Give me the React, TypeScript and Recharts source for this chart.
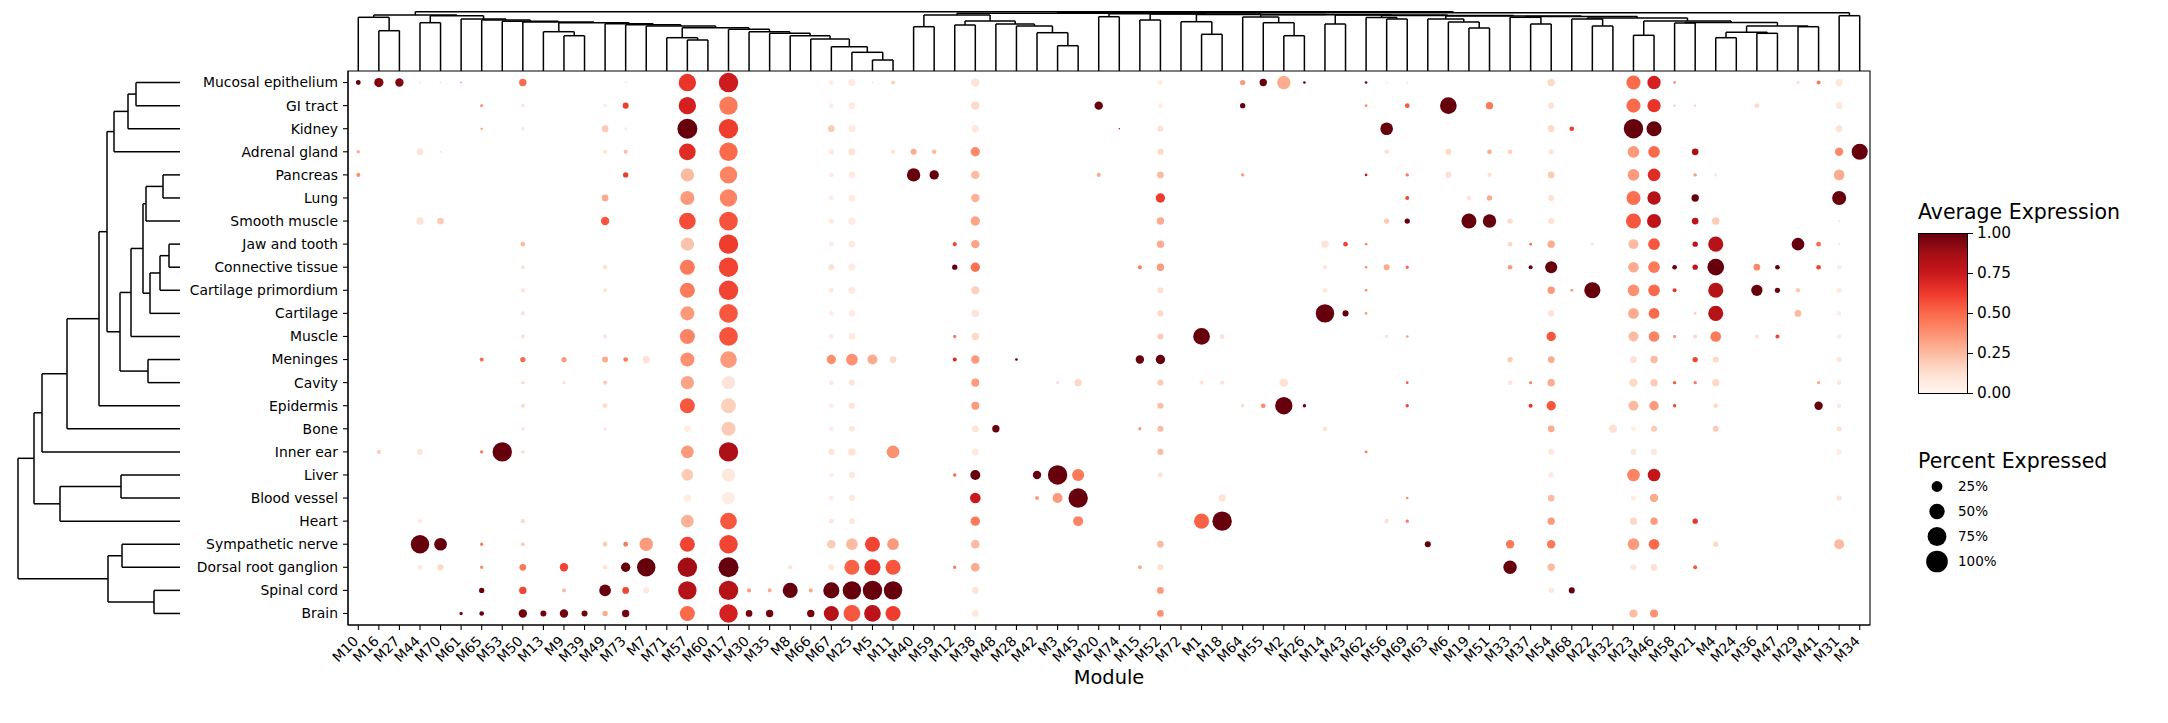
import React from "react";
import {
  ScatterChart,
  Scatter,
  XAxis,
  YAxis,
  ZAxis,
  Cell,
  ReferenceLine,
  ReferenceArea,
} from "recharts";

const FONT = "DejaVu Sans, sans-serif";

const modules = [
  "M10", "M16", "M27", "M44", "M70", "M61", "M65", "M53", "M50", "M13", "M9", "M39", "M49", "M73",
  "M7", "M71", "M57", "M60", "M17", "M30", "M35", "M8", "M66", "M67", "M25", "M5", "M11", "M40",
  "M59", "M12", "M38", "M48", "M28", "M42", "M3", "M45", "M20", "M74", "M15", "M52", "M72", "M1",
  "M18", "M64", "M55", "M2", "M26", "M14", "M43", "M62", "M56", "M69", "M63", "M6", "M19", "M51",
  "M33", "M37", "M54", "M68", "M22", "M32", "M23", "M46", "M58", "M21", "M4", "M24", "M36", "M47",
  "M29", "M41", "M31", "M34",
];

const tissues = [
  "Mucosal epithelium", "GI tract", "Kidney", "Adrenal gland", "Pancreas", "Lung", "Smooth muscle",
  "Jaw and tooth", "Connective tissue", "Cartilage primordium", "Cartilage", "Muscle", "Meninges",
  "Cavity", "Epidermis", "Bone", "Inner ear", "Liver", "Blood vessel", "Heart", "Sympathetic nerve",
  "Dorsal root ganglion", "Spinal cord", "Brain",
];

// [module, percent expressed, average expression]
type Dot = [string, number, number];

const mucosalEpithelium: Dot[] = [
  ["M10", 5, 1], ["M16", 18, 0.95], ["M27", 15, 0.95], ["M44", 1, 0.1], ["M70", 1, 0.1],
  ["M61", 0.6, 0.4], ["M50", 11.5, 0.5], ["M73", 1, 0.1], ["M57", 64, 0.65], ["M17", 80, 0.74],
  ["M67", 5, 0.06], ["M25", 11, 0.06], ["M5", 1, 0.1], ["M11", 3.4, 0.18], ["M38", 15, 0.1],
  ["M52", 5, 0.06], ["M64", 6, 0.35], ["M55", 11.5, 1], ["M2", 38, 0.3], ["M26", 1.5, 1],
  ["M62", 1.5, 1], ["M56", 0.7, 0.1], ["M69", 0.7, 0.1], ["M54", 11.5, 0.15], ["M23", 42, 0.5],
  ["M46", 38, 0.72], ["M58", 1.5, 0.4], ["M29", 2.4, 0.12], ["M41", 3.4, 0.45], ["M31", 11.5, 0.08],
];
const giTract: Dot[] = [
  ["M65", 2.4, 0.35], ["M50", 2.4, 0.12], ["M49", 2.4, 0.08], ["M73", 7.7, 0.62], ["M57", 64, 0.72],
  ["M17", 72, 0.45], ["M67", 4.6, 0.06], ["M25", 9.5, 0.06], ["M38", 15, 0.15], ["M20", 15, 1],
  ["M52", 5, 0.06], ["M64", 6, 1], ["M62", 1.5, 0.4], ["M69", 4.6, 0.55], ["M6", 59, 1],
  ["M51", 11.5, 0.45], ["M54", 7.7, 0.12], ["M23", 42, 0.5], ["M46", 38, 0.65], ["M58", 1, 0.2],
  ["M21", 1, 0.2], ["M36", 4.6, 0.15], ["M31", 9.5, 0.08],
];
const kidney: Dot[] = [
  ["M65", 1.5, 0.3], ["M50", 2.4, 0.1], ["M49", 9.5, 0.2], ["M73", 1.5, 0.1], ["M57", 85, 1],
  ["M17", 80, 0.62], ["M67", 9.5, 0.2], ["M25", 11, 0.06], ["M38", 11, 0.08], ["M74", 0.4, 0.9],
  ["M52", 7.7, 0.12], ["M56", 34, 1], ["M54", 9.5, 0.15], ["M68", 4.6, 0.62], ["M23", 80, 1],
  ["M46", 48, 1], ["M31", 9.5, 0.1],
];
const adrenalGland: Dot[] = [
  ["M10", 2.4, 0.3], ["M44", 9.5, 0.1], ["M70", 1, 0.1], ["M49", 3.4, 0.1], ["M73", 3.4, 0.25],
  ["M57", 59, 0.68], ["M17", 72, 0.5], ["M67", 6, 0.08], ["M25", 11, 0.1], ["M11", 3.4, 0.12],
  ["M40", 7.7, 0.3], ["M59", 4.6, 0.25], ["M38", 18.6, 0.4], ["M52", 7.7, 0.15], ["M56", 4.6, 0.12],
  ["M6", 7.7, 0.15], ["M51", 4.6, 0.3], ["M33", 4.6, 0.18], ["M54", 6, 0.1], ["M23", 29, 0.35],
  ["M46", 29, 0.5], ["M21", 9.5, 0.85], ["M31", 15, 0.4], ["M34", 55, 1],
];
const pancreas: Dot[] = [
  ["M10", 3.4, 0.38], ["M73", 6, 0.62], ["M57", 38, 0.25], ["M17", 64, 0.42], ["M67", 4.6, 0.06],
  ["M25", 9.5, 0.06], ["M40", 38, 1], ["M59", 18.6, 1], ["M38", 15, 0.25], ["M20", 3.4, 0.3],
  ["M52", 9.5, 0.25], ["M64", 2.4, 0.35], ["M62", 1.5, 0.75], ["M69", 2.4, 0.45], ["M6", 7.7, 0.12],
  ["M51", 3.4, 0.12], ["M54", 9.5, 0.2], ["M23", 29, 0.35], ["M46", 34, 0.68], ["M21", 2.4, 0.35],
  ["M4", 2.4, 0.08], ["M31", 24, 0.3],
];
const lung: Dot[] = [
  ["M49", 9.5, 0.3], ["M57", 42, 0.35], ["M17", 64, 0.42], ["M67", 5, 0.06], ["M25", 9.5, 0.06],
  ["M38", 15, 0.28], ["M52", 18.6, 0.62], ["M69", 3.4, 0.6], ["M19", 4.6, 0.1], ["M51", 6, 0.3],
  ["M54", 7.7, 0.12], ["M23", 42, 0.48], ["M46", 38, 0.82], ["M21", 11.5, 1], ["M31", 42, 1],
];
const smoothMuscle: Dot[] = [
  ["M44", 11.5, 0.1], ["M70", 9.5, 0.2], ["M49", 15, 0.55], ["M57", 59, 0.58], ["M17", 74, 0.56],
  ["M67", 6, 0.06], ["M25", 11, 0.06], ["M38", 18.6, 0.32], ["M52", 11.5, 0.3], ["M56", 6, 0.2],
  ["M69", 6, 1], ["M19", 48, 1], ["M51", 38, 1], ["M33", 6, 0.15], ["M54", 7.7, 0.12],
  ["M23", 48, 0.55], ["M46", 42, 0.8], ["M21", 9.5, 0.8], ["M4", 11.5, 0.2], ["M31", 1, 0.1],
];
const jawAndTooth: Dot[] = [
  ["M50", 4.6, 0.25], ["M57", 38, 0.22], ["M17", 80, 0.62], ["M67", 5, 0.06], ["M25", 9.5, 0.06],
  ["M12", 3.4, 0.6], ["M38", 15, 0.32], ["M52", 11.5, 0.3], ["M14", 11.5, 0.1], ["M43", 4.6, 0.6],
  ["M62", 1.5, 0.4], ["M33", 4.6, 0.15], ["M37", 1.5, 0.5], ["M54", 11.5, 0.3], ["M22", 2.4, 0.08],
  ["M23", 21, 0.25], ["M46", 29, 0.55], ["M21", 6, 0.8], ["M4", 48, 0.82], ["M29", 34, 1],
  ["M41", 4.6, 0.5], ["M31", 1, 0.08],
];
const connectiveTissue: Dot[] = [
  ["M50", 3.4, 0.12], ["M49", 4.6, 0.12], ["M57", 48, 0.45], ["M17", 80, 0.6], ["M67", 7.7, 0.12],
  ["M25", 11, 0.06], ["M12", 6, 1], ["M38", 18.6, 0.48], ["M15", 3.4, 0.45], ["M52", 11.5, 0.35],
  ["M14", 4.6, 0.08], ["M62", 1.5, 0.4], ["M56", 7.7, 0.3], ["M69", 2.4, 0.5], ["M33", 4.6, 0.35],
  ["M37", 3.4, 1], ["M54", 31, 1], ["M23", 24, 0.3], ["M46", 29, 0.45], ["M58", 4.6, 1],
  ["M21", 6, 0.8], ["M4", 59, 1], ["M36", 9.5, 0.4], ["M47", 4.6, 1], ["M41", 4.6, 0.6],
  ["M31", 4.6, 0.06],
];
const cartilagePrimordium: Dot[] = [
  ["M50", 3.4, 0.12], ["M49", 3.4, 0.1], ["M57", 48, 0.45], ["M17", 80, 0.6], ["M67", 5, 0.08],
  ["M25", 11, 0.06], ["M38", 13.6, 0.18], ["M52", 7.7, 0.12], ["M14", 4.6, 0.08], ["M62", 1.5, 0.4],
  ["M54", 11.5, 0.35], ["M68", 1.5, 0.4], ["M22", 55, 1], ["M23", 29, 0.38], ["M46", 29, 0.5],
  ["M58", 3.4, 0.65], ["M4", 48, 0.82], ["M36", 27, 1], ["M47", 6, 1], ["M29", 4.6, 0.2],
  ["M31", 6, 0.06],
];
const cartilage: Dot[] = [
  ["M50", 3.4, 0.12], ["M57", 42, 0.35], ["M17", 74, 0.55], ["M67", 5, 0.06], ["M25", 9.5, 0.06],
  ["M38", 11.5, 0.1], ["M52", 7.7, 0.15], ["M14", 72, 1], ["M43", 7.7, 1], ["M62", 1.5, 0.35],
  ["M54", 7.7, 0.12], ["M23", 24, 0.3], ["M46", 24, 0.5], ["M21", 1.5, 0.2], ["M4", 48, 0.82],
  ["M29", 9.5, 0.25], ["M31", 3.4, 0.06],
];
const muscle: Dot[] = [
  ["M50", 3.4, 0.12], ["M49", 3.4, 0.1], ["M57", 48, 0.42], ["M17", 74, 0.56], ["M67", 5, 0.06],
  ["M25", 9.5, 0.06], ["M12", 2.4, 0.45], ["M38", 11.5, 0.15], ["M52", 7.7, 0.2], ["M1", 59, 1],
  ["M18", 5, 0.1], ["M56", 2.4, 0.12], ["M69", 1.5, 0.35], ["M54", 18.6, 0.55], ["M23", 21, 0.25],
  ["M46", 24, 0.42], ["M58", 2.4, 0.35], ["M21", 3.4, 0.15], ["M4", 24, 0.45], ["M36", 3.4, 0.12],
  ["M47", 3.4, 0.6], ["M31", 4.6, 0.06],
];
const meninges: Dot[] = [
  ["M65", 3.4, 0.5], ["M50", 6, 0.5], ["M9", 6, 0.35], ["M49", 7.7, 0.3], ["M73", 4.6, 0.45],
  ["M7", 11.5, 0.1], ["M57", 42, 0.38], ["M17", 59, 0.35], ["M67", 18.6, 0.38], ["M25", 29, 0.38],
  ["M5", 21, 0.3], ["M11", 9.5, 0.15], ["M12", 3.4, 0.7], ["M38", 15, 0.35], ["M28", 1.5, 1],
  ["M15", 15, 1], ["M52", 18.6, 1], ["M33", 6, 0.2], ["M54", 9.5, 0.3], ["M23", 9.5, 0.12],
  ["M46", 11.5, 0.25], ["M21", 6, 0.6], ["M4", 7.7, 0.15], ["M31", 6, 0.08],
];
const cavity: Dot[] = [
  ["M50", 2.4, 0.15], ["M9", 2.4, 0.12], ["M49", 3.4, 0.2], ["M57", 38, 0.32], ["M17", 38, 0.1],
  ["M67", 5, 0.08], ["M25", 7.7, 0.1], ["M38", 13.6, 0.35], ["M3", 2.4, 0.1], ["M45", 11.5, 0.15],
  ["M52", 7.7, 0.2], ["M1", 3.4, 0.1], ["M18", 3.4, 0.1], ["M2", 15, 0.12], ["M69", 1.5, 0.55],
  ["M33", 4.6, 0.1], ["M37", 2.4, 0.4], ["M54", 11.5, 0.3], ["M23", 15, 0.15], ["M46", 11.5, 0.2],
  ["M58", 2.4, 0.55], ["M21", 2.4, 0.45], ["M4", 11.5, 0.15], ["M41", 2.4, 0.3], ["M31", 4.6, 0.08],
];
const epidermis: Dot[] = [
  ["M50", 3.4, 0.15], ["M49", 4.6, 0.15], ["M57", 48, 0.55], ["M17", 48, 0.18], ["M67", 4.6, 0.06],
  ["M25", 7.7, 0.1], ["M38", 13.6, 0.35], ["M52", 7.7, 0.25], ["M64", 2.4, 0.15], ["M55", 4.6, 0.4],
  ["M2", 64, 1], ["M26", 2.4, 1], ["M69", 2.4, 0.6], ["M37", 3.4, 0.65], ["M54", 18.6, 0.55],
  ["M23", 21, 0.25], ["M46", 18.6, 0.35], ["M58", 2.4, 0.6], ["M4", 4.6, 0.15], ["M41", 15, 1],
  ["M31", 4.6, 0.08],
];
const bone: Dot[] = [
  ["M50", 2.4, 0.1], ["M49", 2.4, 0.1], ["M57", 9.5, 0.05], ["M17", 42, 0.2], ["M67", 4.6, 0.06],
  ["M25", 7.7, 0.08], ["M38", 9.5, 0.1], ["M48", 11.5, 1], ["M15", 2.4, 0.35], ["M52", 7.7, 0.25],
  ["M14", 4.6, 0.1], ["M54", 9.5, 0.3], ["M32", 15, 0.12], ["M23", 4.6, 0.06], ["M46", 7.7, 0.2],
  ["M4", 7.7, 0.2], ["M31", 6, 0.1],
];
const innerEar: Dot[] = [
  ["M16", 3.4, 0.2], ["M44", 7.7, 0.08], ["M65", 2.4, 0.45], ["M53", 80, 1], ["M50", 2.4, 0.15],
  ["M57", 34, 0.35], ["M17", 80, 0.85], ["M67", 7.7, 0.1], ["M25", 11.5, 0.12], ["M11", 34, 0.38],
  ["M38", 9.5, 0.08], ["M52", 7.7, 0.25], ["M62", 1.5, 0.45], ["M54", 7.7, 0.08], ["M23", 7.7, 0.08],
  ["M46", 7.7, 0.08], ["M31", 6, 0.06],
];
const liver: Dot[] = [
  ["M57", 29, 0.2], ["M17", 38, 0.08], ["M67", 4.6, 0.06], ["M25", 7.7, 0.08], ["M12", 2.4, 0.5],
  ["M38", 21, 1], ["M42", 15, 1], ["M3", 80, 1], ["M45", 31, 0.45], ["M52", 5, 0.12],
  ["M54", 6, 0.08], ["M23", 34, 0.42], ["M46", 34, 0.78],
];
const bloodVessel: Dot[] = [
  ["M57", 11.5, 0.05], ["M17", 34, 0.05], ["M67", 4.6, 0.06], ["M25", 7.7, 0.08], ["M38", 24, 0.75],
  ["M42", 3.4, 0.35], ["M3", 21, 0.35], ["M45", 80, 1], ["M18", 11.5, 0.1], ["M69", 1.5, 0.4],
  ["M54", 9.5, 0.25], ["M23", 6, 0.06], ["M46", 15, 0.3], ["M31", 6, 0.1],
];
const heart: Dot[] = [
  ["M44", 3.4, 0.08], ["M50", 3.4, 0.15], ["M57", 34, 0.28], ["M17", 59, 0.55], ["M67", 5, 0.08],
  ["M25", 7.7, 0.08], ["M38", 18.6, 0.45], ["M45", 21, 0.42], ["M1", 48, 0.52], ["M18", 80, 1],
  ["M56", 4.6, 0.12], ["M69", 2.4, 0.45], ["M54", 11.5, 0.35], ["M23", 11.5, 0.15],
  ["M46", 11.5, 0.35], ["M21", 6, 0.65],
];
const sympatheticNerve: Dot[] = [
  ["M44", 72, 1], ["M70", 34, 1], ["M65", 2.4, 0.45], ["M50", 3.4, 0.2], ["M49", 5, 0.2],
  ["M73", 5, 0.45], ["M7", 38, 0.35], ["M57", 48, 0.6], ["M17", 72, 0.6], ["M67", 15, 0.2],
  ["M25", 29, 0.25], ["M5", 48, 0.6], ["M11", 29, 0.35], ["M38", 16, 0.25], ["M52", 9.5, 0.25],
  ["M63", 7.7, 1], ["M33", 15, 0.45], ["M54", 15, 0.45], ["M23", 29, 0.35], ["M46", 24, 0.5],
  ["M4", 6, 0.15], ["M31", 21, 0.25],
];
const dorsalRootGanglion: Dot[] = [
  ["M44", 4.6, 0.08], ["M70", 7.7, 0.15], ["M65", 2.4, 0.4], ["M50", 9.5, 0.45], ["M9", 15, 0.6],
  ["M49", 4.6, 0.12], ["M73", 18.6, 1], ["M7", 72, 1], ["M57", 80, 0.88], ["M17", 85, 1],
  ["M8", 3.4, 0.12], ["M67", 7.7, 0.08], ["M25", 48, 0.52], ["M5", 55, 0.65], ["M11", 48, 0.55],
  ["M12", 2.4, 0.45], ["M38", 16, 0.3], ["M15", 3.4, 0.3], ["M52", 7.7, 0.12], ["M33", 38, 1],
  ["M54", 11.5, 0.25], ["M23", 7.7, 0.08], ["M46", 9.5, 0.12], ["M21", 3.4, 0.55],
];
const spinalCord: Dot[] = [
  ["M65", 6, 1], ["M50", 11.5, 0.6], ["M9", 3.4, 0.25], ["M49", 29, 1], ["M73", 9.5, 0.6],
  ["M7", 7.7, 0.08], ["M57", 72, 0.82], ["M17", 80, 0.82], ["M30", 3.4, 0.35], ["M35", 3.4, 0.3],
  ["M8", 48, 1], ["M66", 3.4, 0.3], ["M67", 55, 1], ["M25", 72, 1], ["M5", 80, 1], ["M11", 72, 1],
  ["M38", 9.5, 0.1], ["M52", 9.5, 0.35], ["M54", 6, 0.08], ["M68", 7.7, 1],
];
const brain: Dot[] = [
  ["M61", 2.4, 0.95], ["M65", 4.6, 1], ["M50", 15, 0.98], ["M13", 7.7, 0.98], ["M9", 15, 0.98],
  ["M39", 7.7, 0.98], ["M49", 6, 0.3], ["M73", 11.5, 0.98], ["M57", 48, 0.5], ["M17", 72, 0.72],
  ["M30", 9.5, 0.98], ["M35", 11.5, 0.98], ["M66", 11.5, 0.98], ["M67", 48, 0.82], ["M25", 59, 0.55],
  ["M5", 59, 0.8], ["M11", 48, 0.62], ["M38", 9.5, 0.08], ["M52", 9.5, 0.38], ["M23", 13.6, 0.25],
  ["M46", 13.6, 0.38],
];

const tissueDots: Dot[][] = [
  mucosalEpithelium, giTract, kidney, adrenalGland, pancreas, lung, smoothMuscle, jawAndTooth,
  connectiveTissue, cartilagePrimordium, cartilage, muscle, meninges, cavity, epidermis, bone,
  innerEar, liver, bloodVessel, heart, sympatheticNerve, dorsalRootGanglion, spinalCord, brain,
];

// dendrograms: leaf name, or [left, right, merge height]
type Node = string | [Node, Node, number];

const tissueUpper: Node = [[["Mucosal epithelium", "GI tract", 44], "Kidney", 52], "Adrenal gland", 66];
const tissueMid: Node = [
  [
    [[["Pancreas", "Lung", 17], "Smooth muscle", 34],
      [[["Jaw and tooth", "Connective tissue", 11], "Cartilage primordium", 20], "Cartilage", 30], 37],
    "Muscle", 49,
  ],
  ["Meninges", "Cavity", 32], 60,
];
const tissueBody: Node = [[[[tissueUpper, tissueMid, 73], "Epidermis", 81], "Bone", 113], "Inner ear", 138];
const tissueCirc: Node = [["Liver", "Blood vessel", 59], "Heart", 120];
const tissueNerve: Node = [["Sympathetic nerve", "Dorsal root ganglion", 58], ["Spinal cord", "Brain", 26], 72];
const tissueTree: Node = [[tissueBody, tissueCirc, 146], tissueNerve, 162];

const modK: Node = ["M17", ["M30", ["M35", ["M8", ["M66", ["M67", ["M25", ["M5", "M11", 11], 18.7], 24.3], 32], 35.3], 37.7], 39.3], 41.7];
const modJ: Node = ["M71", ["M57", "M60", 31], 33.3];
const modI: Node = ["M13", ["M9", "M39", 35.3], 39.3];
const modX: Node = ["M61", ["M65", ["M53", ["M50", [modI, ["M49", ["M73", ["M7", [modJ, modK, 43.3], 45], 46.2], 47.2], 48.3], 49], 49.7], 51], 52];
const modQ: Node = [["M10", ["M16", "M27", 40.3], 53.7], [["M44", "M70", 48.3], modX, 55.3], 56];
const modA: Node = [["M40", "M59", 44.3], [["M12", "M38", 46], ["M48", ["M28", ["M42", ["M3", "M45", 25.3], 38.3], 45], 47], 50], 56];
const modG1: Node = ["M20", "M74", 54.3];
const modG2: Node = ["M15", "M52", 51];
const modG3: Node = ["M72", ["M1", "M18", 36.7], 49.3];
const modG4: Node = ["M64", ["M55", ["M2", "M26", 35.3], 48.3], 54];
const modG5: Node = ["M14", "M43", 47];
const modG6: Node = ["M62", ["M56", "M69", 52], 53.5];
const modG7: Node = ["M63", ["M6", ["M19", "M51", 43], 49], 52];
const modG8: Node = ["M33", ["M37", "M54", 47], 53.7];
const modG9: Node = ["M68", ["M22", "M32", 45], 52];
const modG10: Node = ["M23", "M46", 35.7];
const modG11: Node = ["M58", "M21", 48];
const modG12: Node = [["M4", "M24", 33.3], ["M36", "M47", 37.7], 38.7];
const modG13: Node = ["M29", "M41", 44.3];
const modG14: Node = ["M31", "M34", 55.3];
const modLadder: Node = [modG1, [modG2, [modG3, [modG4, [modG5, [modG6, [modG7, [modG8, [modG9, [modG10, [modG11, [modG12, modG13, 45], 48.5], 50], 53], 54.5], 55], 55.5], 56], 56.3], 56.6], 57], 57.3];
const moduleTree: Node = [modQ, [[modA, modLadder, 57.7], modG14, 58.3], 59.3];

const expressionTicks = [1, 0.75, 0.5, 0.25, 0];
const percentTicks = [25, 50, 75, 100];

const redStops = ["#fff5f0", "#fee0d2", "#fcbba1", "#fc9272", "#fb6a4a", "#ef3b2c", "#cb181d", "#a50f15", "#67000d"];

function hex(c: string) {
  return [1, 3, 5].map((i) => parseInt(c.slice(i, i + 2), 16));
}
function reds(v: number) {
  const t = Math.max(0, Math.min(1, v)) * 8;
  const i = Math.min(7, Math.floor(t));
  const f = t - i;
  const a = hex(redStops[i]);
  const b = hex(redStops[i + 1]);
  const m = a.map((x, k) => Math.round(x + (b[k] - x) * f));
  return `rgb(${m[0]},${m[1]},${m[2]})`;
}

type Seg = { p1: number; h1: number; p2: number; h2: number };
function layoutTree(node: Node, order: string[], segs: Seg[]): { pos: number; h: number } {
  if (typeof node === "string") return { pos: order.indexOf(node), h: 0 };
  const a = layoutTree(node[0], order, segs);
  const b = layoutTree(node[1], order, segs);
  const h = node[2];
  segs.push({ p1: a.pos, h1: a.h, p2: a.pos, h2: h });
  segs.push({ p1: a.pos, h1: h, p2: b.pos, h2: h });
  segs.push({ p1: b.pos, h1: b.h, p2: b.pos, h2: h });
  return { pos: (a.pos + b.pos) / 2, h };
}

const moduleSegs: Seg[] = [];
layoutTree(moduleTree, modules, moduleSegs);
const tissueSegs: Seg[] = [];
layoutTree(tissueTree, tissues, tissueSegs);

const points = tissueDots.flatMap((row, r) =>
  row.map(([m, pct, expr]) => ({ x: modules.indexOf(m), y: r, pct, expr }))
);

const ModuleTick = (props: any) => {
  const { x, y, payload } = props;
  const ax = x + 1;
  const ay = y + 10;
  return (
    <text
      x={ax}
      y={ay}
      transform={`rotate(-45, ${ax}, ${ay})`}
      textAnchor="end"
      fontSize={13.9}
      fontFamily={FONT}
      fill="#000"
    >
      {modules[payload.value]}
    </text>
  );
};

const dendroStroke = { stroke: "#000", strokeWidth: 1.5 };

export default function App() {
  return (
    <div style={{ position: "absolute", left: 0, top: 0, width: 2168, height: 723, background: "#fff", fontFamily: FONT }}>
      {/* top dendrogram */}
      <div style={{ position: "absolute", left: 0, top: 0 }}>
        <ScatterChart width={2168} height={71} margin={{ top: 0, right: 298, bottom: 0, left: 348 }}>
          <XAxis type="number" dataKey="x" domain={[-0.5, 73.5]} hide />
          <YAxis type="number" dataKey="y" domain={[0, 71]} hide />
          <Scatter data={[{ x: 0, y: 0 }]} fill="none" isAnimationActive={false} />
          {moduleSegs.map((s, i) => (
            <ReferenceLine
              key={i}
              segment={[{ x: s.p1, y: s.h1 }, { x: s.p2, y: s.h2 }]}
              ifOverflow="visible"
              {...dendroStroke}
            />
          ))}
        </ScatterChart>
      </div>

      {/* left dendrogram */}
      <div style={{ position: "absolute", left: 0, top: 0 }}>
        <ScatterChart width={182} height={723} margin={{ top: 71, right: 2, bottom: 98, left: 0 }}>
          <XAxis type="number" dataKey="x" domain={[0, 180]} reversed hide />
          <YAxis type="number" dataKey="y" domain={[-0.5, 23.5]} reversed hide />
          <Scatter data={[{ x: 0, y: 0 }]} fill="none" isAnimationActive={false} />
          {tissueSegs.map((s, i) => (
            <ReferenceLine
              key={i}
              segment={[{ x: s.h1, y: s.p1 }, { x: s.h2, y: s.p2 }]}
              ifOverflow="visible"
              {...dendroStroke}
            />
          ))}
        </ScatterChart>
      </div>

      {/* dot plot */}
      <div style={{ position: "absolute", left: 0, top: 0 }}>
        <ScatterChart width={2168} height={723} margin={{ top: 71, right: 298, bottom: 28, left: 148 }}>
          <XAxis
            type="number"
            dataKey="x"
            domain={[-0.5, 73.5]}
            ticks={modules.map((_, i) => i)}
            interval={0}
            tick={ModuleTick}
            tickSize={5}
            tickLine={{ stroke: "#000", strokeWidth: 1.1 }}
            axisLine={{ stroke: "#000", strokeWidth: 1.1 }}
            height={70}
            label={{ value: "Module", position: "insideBottom", offset: 11, fontSize: 19.4, fill: "#000", fontFamily: FONT }}
          />
          <YAxis
            type="number"
            dataKey="y"
            domain={[-0.5, 23.5]}
            reversed
            ticks={tissues.map((_, i) => i)}
            interval={0}
            width={200}
            tickFormatter={(v: number) => tissues[v]}
            tick={{ fill: "#000", fontSize: 13.9, fontFamily: FONT }}
            tickSize={5}
            tickMargin={5}
            tickLine={{ stroke: "#000", strokeWidth: 1.1 }}
            axisLine={{ stroke: "#000", strokeWidth: 1.1 }}
          />
          <ZAxis type="number" dataKey="pct" domain={[0, 100]} range={[0, 370]} />
          <ReferenceArea x1={-0.5} x2={73.5} y1={-0.5} y2={23.5} fill="none" stroke="#000" strokeWidth={1.1} ifOverflow="visible" />
          <Scatter data={points} isAnimationActive={false}>
            {points.map((p, i) => (
              <Cell key={i} fill={reds(p.expr)} />
            ))}
          </Scatter>
        </ScatterChart>
      </div>

      {/* colour legend */}
      <div style={{ position: "absolute", left: 1918, top: 200, fontSize: 20.5, color: "#000", whiteSpace: "nowrap", lineHeight: "24px" }}>
        Average Expression
      </div>
      <div
        style={{
          position: "absolute",
          left: 1918,
          top: 233,
          width: 48,
          height: 159,
          border: "1px solid #000",
          background: `linear-gradient(to top, ${redStops.join(", ")})`,
        }}
      />
      {expressionTicks.map((t, i) => (
        <React.Fragment key={t}>
          <div style={{ position: "absolute", left: 1968, top: 233 + i * 40, width: 5, height: 1, background: "#000" }} />
          <div style={{ position: "absolute", left: 1977, top: 233 + i * 40 - 10, fontSize: 15.3, lineHeight: "20px", color: "#000" }}>
            {t.toFixed(2)}
          </div>
        </React.Fragment>
      ))}

      {/* size legend */}
      <div style={{ position: "absolute", left: 1918, top: 449, fontSize: 20.5, color: "#000", whiteSpace: "nowrap", lineHeight: "24px" }}>
        Percent Expressed
      </div>
      <div style={{ position: "absolute", left: 1917, top: 473.5 }}>
        <ScatterChart width={40} height={100} margin={{ top: 0, right: 0, bottom: 0, left: 0 }}>
          <XAxis type="number" dataKey="x" domain={[-1, 1]} hide />
          <YAxis type="number" dataKey="y" domain={[-0.5, 3.5]} reversed hide />
          <ZAxis type="number" dataKey="pct" domain={[0, 100]} range={[0, 370]} />
          <Scatter data={percentTicks.map((p, i) => ({ x: 0, y: i, pct: p }))} fill="#000" isAnimationActive={false} />
        </ScatterChart>
      </div>
      {percentTicks.map((p, i) => (
        <div key={p} style={{ position: "absolute", left: 1958, top: 486 + i * 25 - 9, fontSize: 13.5, lineHeight: "18px", color: "#000" }}>
          {p}%
        </div>
      ))}
    </div>
  );
}
